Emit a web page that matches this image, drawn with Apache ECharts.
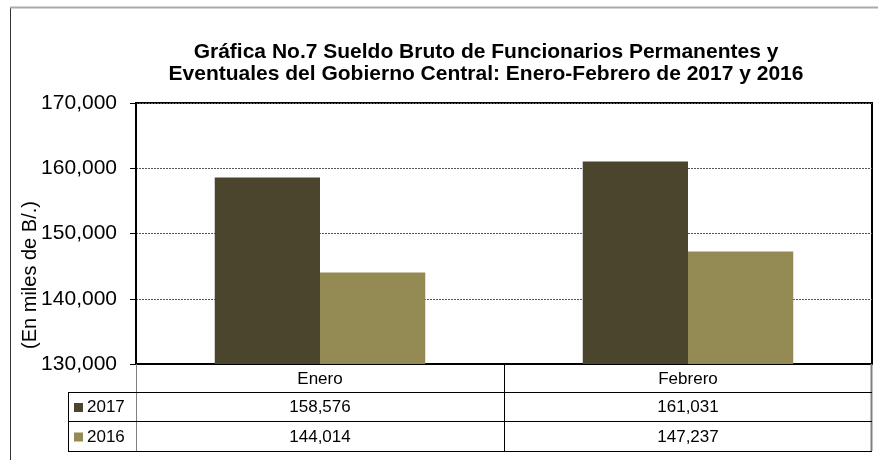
<!DOCTYPE html>
<html><head><meta charset="utf-8">
<script src="https://cdn.jsdelivr.net/npm/echarts@6/dist/echarts.min.js"></script>
<style>html,body{margin:0;padding:0;background:#fff}#c{width:878px;height:460px}</style>
</head><body><div id="c"></div>
<script>
const categories = ['Enero', 'Febrero'];
const seriesNames = ['2017', '2016'];
const values2017 = [158576, 161031];
const values2016 = [144014, 147237];
const yMin = 130000, yMax = 170000, yStep = 10000;
const titleText = 'Gráfica No.7 Sueldo Bruto de Funcionarios Permanentes y\nEventuales del Gobierno Central: Enero-Febrero de 2017 y 2016';
const yAxisName = '(En miles de B/.)';
const colors = ['#4A452C', '#948A54'];

const FONT = 'Liberation Sans, Arial, sans-serif';
const fmt = v => v.toLocaleString('en-US');

const chart = echarts.init(document.getElementById('c'), null, {renderer: 'canvas'});
const G = {left: 136, top: 103, right: 6, bottom: 96};

chart.setOption({
  animation: false,
  backgroundColor: '#fff',
  title: {
    text: titleText, left: 481, top: 36, textAlign: 'center',
    textStyle: {fontFamily: FONT, fontWeight: 'bold', fontSize: 21, lineHeight: 22, color: '#000'}
  },
  grid: {left: G.left, top: G.top, right: G.right, bottom: G.bottom, containLabel: false,
         show: true, borderColor: '#000', borderWidth: 2, backgroundColor: 'transparent'},
  xAxis: {type: 'category', data: categories, axisLabel: {show: false}, axisTick: {show: false},
          axisLine: {show: true, lineStyle: {color: '#000', width: 2}}},
  yAxis: {type: 'value', min: yMin, max: yMax, interval: yStep,
          axisLine: {show: true, lineStyle: {color: '#000', width: 2}},
          axisTick: {show: true, length: 6, lineStyle: {color: '#000'}},
          axisLabel: {margin: 19, fontFamily: FONT, fontSize: 21, color: '#000', formatter: v => fmt(v)},
          splitLine: {show: true, lineStyle: {color: '#555', type: [2, 1], width: 1}}},
  series: [
    {name: seriesNames[0], type: 'bar', data: values2017, barWidth: '28.6%', barGap: '0%',
     itemStyle: {color: colors[0]}},
    {name: seriesNames[1], type: 'bar', data: values2016, barWidth: '28.6%', barGap: '0%',
     itemStyle: {color: colors[1]}}
  ]
});

// data table below the plot
const plotLeft = G.left, plotRight = 878 - G.right - 1, plotBottom = 460 - G.bottom;
const rowY = [plotBottom, 392, 421, 451];
const legLeft = 68;
const midX = (chart.convertToPixel({xAxisIndex: 0}, categories[0]) + chart.convertToPixel({xAxisIndex: 0}, categories[1])) / 2;
const els = [];
const line = (x1, y1, x2, y2, c, w) => els.push({type: 'line', shape: {x1, y1, x2, y2}, style: {stroke: c, lineWidth: w || 1}, z: 100});
// outer frame
line(10.5, 7, 10.5, 460, '#333', 1);
line(10, 7.5, 878, 7.5, '#aaa', 2);
// table lines
line(plotLeft + 0.5, rowY[0], plotLeft + 0.5, rowY[3], '#808080', 1);
line(Math.round(midX) + 0.5, rowY[0], Math.round(midX) + 0.5, rowY[3], '#000', 1);
line(plotRight + 0.5, rowY[0], plotRight + 0.5, rowY[3], '#808080', 2);
line(legLeft + 0.5, rowY[1], legLeft + 0.5, rowY[3], '#000', 1);
for (let i = 1; i <= 3; i++) line(legLeft, rowY[i] + 0.5, plotRight + 1, rowY[i] + 0.5, '#000', 1);
const txt = (x, y, t, align) => els.push({type: 'text', x, y, z: 101,
  style: {text: t, fontFamily: FONT, fontSize: 17, fill: '#000', align: align || 'center', verticalAlign: 'middle'}});
categories.forEach((c, i) => {
  const cx = chart.convertToPixel({xAxisIndex: 0}, c);
  txt(cx, (rowY[0] + rowY[1]) / 2 + 1, c);
  txt(cx, (rowY[1] + rowY[2]) / 2 + 1, fmt(values2017[i]));
  txt(cx, (rowY[2] + rowY[3]) / 2 + 1, fmt(values2016[i]));
});
seriesNames.forEach((n, i) => {
  const cy = (rowY[i + 1] + rowY[i + 2]) / 2 + 1;
  els.push({type: 'rect', shape: {x: 74, y: cy - 4.5, width: 9, height: 9}, style: {fill: colors[i]}, z: 101});
  txt(87, cy, n, 'left');
});
// y axis name
els.push({type: 'text', x: 30, y: 275, rotation: Math.PI / 2, z: 101,
  style: {text: yAxisName, fontFamily: FONT, fontSize: 20, fill: '#000', align: 'center', verticalAlign: 'middle'}});
chart.setOption({graphic: {elements: els}});
</script></body></html>
